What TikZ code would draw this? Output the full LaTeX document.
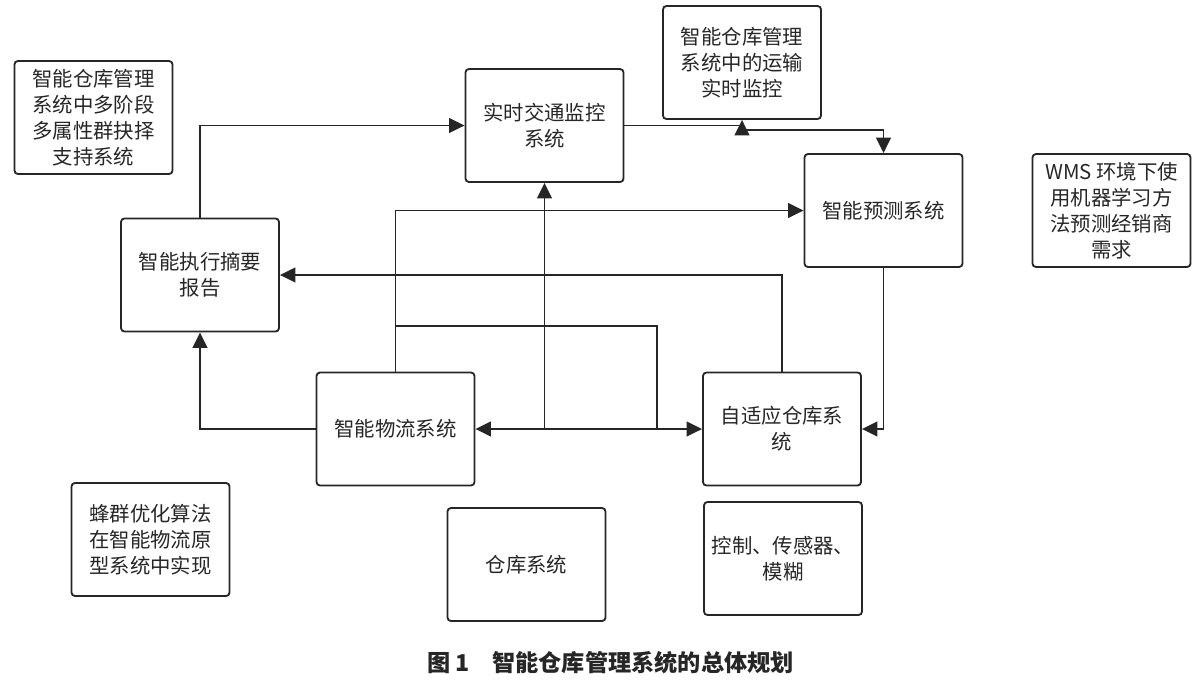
\documentclass[tikz,border=0pt]{standalone}
\usepackage{fontspec}
\setmainfont{Noto Sans CJK SC}
\usetikzlibrary{arrows.meta}

\begin{document}
\begin{tikzpicture}[x=0.025cm,y=-0.025cm,
  box/.style={draw=black!85, line width=1.3pt, rounded corners=2.5pt, minimum width=3.95cm, minimum height=2.825cm,
    align=center, text=black!85, font=\fontsize{14.5}{18.5}\selectfont, inner sep=2pt},
  arr/.style={draw=black!85, line width=1.3pt, -{Triangle[length=11pt,width=10.5pt]}},
  ln/.style={draw=black!85, line width=1.3pt}]
\useasboundingbox (0,0) rectangle (1200,686);

\node[box] (dss) at (93.5,117.5) {智能仓库管理\\系统中多阶段\\多属性群抉择\\支持系统};
\node[box] (report) at (200,275) {智能执行摘要\\报告};
\node[box] (traffic) at (544.5,125.5) {实时交通监控\\系统};
\node[box] (transport) at (742,62.5) {智能仓库管理\\系统中的运输\\实时监控};
\node[box] (forecast) at (883.5,210.5) {智能预测系统};
\node[box] (wms) at (1111.5,210.5) {WMS 环境下使\\用机器学习方\\法预测经销商\\需求};
\node[box] (logistics) at (395.5,429) {智能物流系统};
\node[box] (adaptive) at (782,429) {自适应仓库系\\统};
\node[box] (bee) at (150.5,539.5) {蜂群优化算法\\在智能物流原\\型系统中实现};
\node[box] (storage) at (526.5,564.5) {仓库系统};
\node[box] (control) at (783,558.5) {控制、传感器、\\模糊};
\node[text=black!85, font=\fontsize{16.5}{20}\selectfont\bfseries] (caption) at (611,663) {图\,1\quad 智能仓库管理系统的总体规划};

% connectors
\coordinate (tsplit) at (742,130);
\coordinate (hub) at (traffic.south |- logistics.east);
\coordinate (loop) at (657,326);
\draw[arr] (report.north) |- (traffic.west);
\draw[arr] (traffic.east) -| (transport.south);
\draw[arr] (tsplit) -| (forecast.north);
\draw[arr] (logistics.north) |- (forecast.west);
\draw[arr] (adaptive.north) |- (report.east);
\draw[arr] (hub) -- (traffic.south);
\draw[ln] (logistics.north |- loop) -- (loop) -- (loop |- logistics.east);
\draw[arr] (hub) -- (logistics.east);
\draw[arr] (hub) -- (adaptive.west);
\draw[arr] (logistics.west) -| (report.south);
\draw[arr] (forecast.south) |- (adaptive.east);
\end{tikzpicture}
\end{document}
